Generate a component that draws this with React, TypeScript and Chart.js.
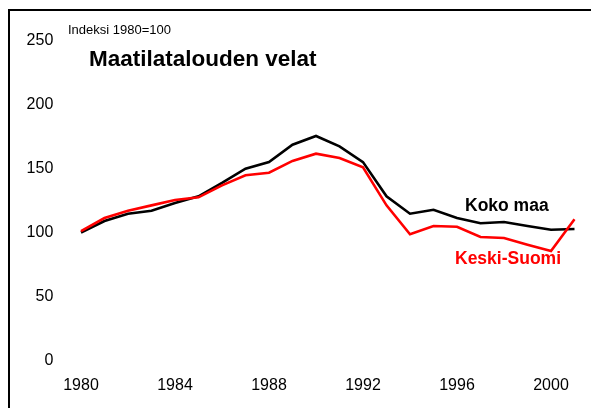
import React, { useEffect, useRef } from "react";
import { Chart, registerables } from "chart.js";

Chart.register(...registerables);

const years = [
  "1980", "1981", "1982", "1983", "1984", "1985", "1986", "1987", "1988", "1989", "1990",
  "1991", "1992", "1993", "1994", "1995", "1996", "1997", "1998", "1999", "2000", "2001",
];
const kokoMaa = [
  100, 109, 114.7, 117, 123, 128.3, 138.7, 149.9, 155, 168.6, 175.4,
  167.3, 155, 128.3, 114.7, 117.8, 111.3, 107.2, 108.2, 105.1, 102.2, 102.7,
];
const keskiSuomi = [
  101, 111.3, 117, 121.2, 125.4, 127.5, 136.8, 144.7, 146.7, 155.9, 161.6,
  158.2, 150.9, 121.2, 98.6, 105.1, 104.5, 96.5, 95.7, 90.5, 85.5, 110.3,
];
const yTicks = [0, 50, 100, 150, 200, 250];
const titleText = "Maatilatalouden velat";
const subtitleText = "Indeksi 1980=100";
const label1 = "Koko maa";
const label2 = "Keski-Suomi";

const FONT = '"Liberation Sans", Arial, Helvetica, sans-serif';

const decorPlugin = {
  id: "decor",
  afterDraw(chart: any) {
    const ctx = chart.ctx;
    ctx.save();
    ctx.fillStyle = "#000";
    ctx.fillRect(8, 9, 591, 2);
    ctx.fillRect(8, 9, 2, 408);
    ctx.textBaseline = "alphabetic";
    ctx.textAlign = "left";
    ctx.font = `13px ${FONT}`;
    ctx.fillText(subtitleText, 68, 34);
    ctx.font = `bold 22.5px ${FONT}`;
    ctx.fillText(titleText, 89, 65.5);
    ctx.font = `bold 17.5px ${FONT}`;
    ctx.fillText(label1, 465, 210.5);
    ctx.fillStyle = "#ff0000";
    ctx.fillText(label2, 455, 264);
    ctx.restore();
  },
};

export default function App() {
  const ref = useRef<HTMLCanvasElement | null>(null);
  useEffect(() => {
    if (!ref.current) return;
    const chart = new Chart(ref.current, {
      type: "line",
      data: {
        labels: years,
        datasets: [
          {
            label: label2,
            data: keskiSuomi,
            borderColor: "#ff0000",
            backgroundColor: "#ff0000",
            borderWidth: 2.6,
            pointRadius: 0,
            tension: 0,
          },
          {
            label: label1,
            data: kokoMaa,
            borderColor: "#000000",
            backgroundColor: "#000000",
            borderWidth: 2.6,
            pointRadius: 0,
            tension: 0,
          },
        ],
      },
      options: {
        responsive: false,
        animation: false,
        devicePixelRatio: 1,
        layout: { padding: { left: 0, right: 16.5, top: 40.5, bottom: 13.5 } },
        plugins: {
          legend: { display: false },
          tooltip: { enabled: false },
          title: { display: false },
        },
        scales: {
          x: {
            type: "category",
            offset: false,
            grid: { display: false, drawTicks: false },
            border: { display: false },
            afterFit(scale: any) {
              scale.height = 34;
            },
            ticks: {
              autoSkip: false,
              maxRotation: 0,
              padding: 15,
              color: "#000",
              font: { family: FONT, size: 16 },
              callback: function (this: any, value: any, index: number) {
                return index % 4 === 0 ? years[index] : "";
              },
            },
          },
          y: {
            min: yTicks[0],
            max: yTicks[yTicks.length - 1],
            grid: { display: false, drawTicks: false },
            border: { display: false },
            afterFit(scale: any) {
              scale.width = 81;
            },
            afterBuildTicks(scale: any) {
              scale.ticks = yTicks.map((v) => ({ value: v }));
            },
            ticks: {
              padding: 27.7,
              color: "#000",
              font: { family: FONT, size: 16 },
            },
          },
        },
      },
      plugins: [decorPlugin],
    });
    return () => chart.destroy();
  }, []);
  return (
    <div style={{ position: "fixed", left: 0, top: 0, width: 591, height: 408, background: "#fff", overflow: "hidden" }}>
      <canvas ref={ref} width={591} height={408} style={{ display: "block" }} />
    </div>
  );
}
